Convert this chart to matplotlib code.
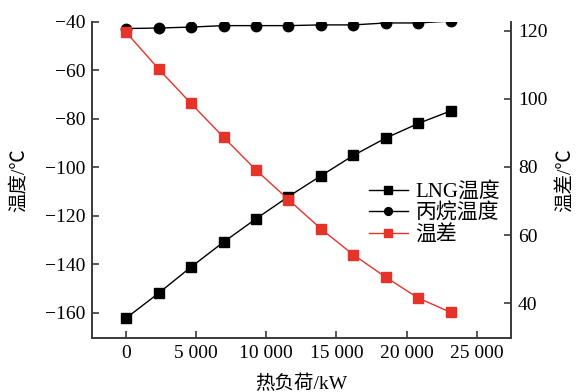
import matplotlib
matplotlib.use('Agg')
import matplotlib.pyplot as plt
from matplotlib.ticker import FuncFormatter

# ==========================================================
# Data
# ==========================================================

heat_load = [0, 2320, 4630, 6950, 9260, 11580, 13900, 16210, 18530, 20840, 23160]

lng_temp = [-162.3, -152.0, -141.2, -130.9, -121.3, -112.1,
            -103.5, -95.1, -87.9, -81.9, -76.7]

propane_temp = [-42.7, -42.5, -42.1, -41.5, -41.5, -41.5,
                -41.2, -41.2, -40.4, -40.4, -39.6]

temp_diff = [119.5, 108.7, 98.6, 88.7, 79.1, 70.4,
             61.8, 54.2, 47.6, 41.5, 37.3]

x_ticks = [0, 5000, 10000, 15000, 20000, 25000]
left_ticks = [-160, -140, -120, -100, -80, -60, -40]
right_ticks = [40, 60, 80, 100, 120]

labels = ['LNG温度', '丙烷温度', '温差']

# ==========================================================
# Style
# ==========================================================

plt.rcParams['font.family'] = ['Liberation Serif', 'Noto Sans CJK SC']
plt.rcParams['font.size'] = 14
plt.rcParams['axes.unicode_minus'] = True

red = '#e5332a'
grey = '#3a3a3a'

fig = plt.figure(figsize=(5.76, 3.92), dpi=100)
ax = fig.add_axes([0.1597, 0.1378, 0.7275, 0.8061])
ax2 = ax.twinx()

# ==========================================================
# Lines
# ==========================================================

l1, = ax.plot(heat_load, lng_temp, color='black', linewidth=1.0,
              marker='s', markersize=7, label=labels[0])
l2, = ax.plot(heat_load, propane_temp, color='black', linewidth=1.0,
              marker='o', markersize=7.5, label=labels[1])
l3, = ax2.plot(heat_load, temp_diff, color=red, linewidth=1.0,
               marker='s', markersize=7, label=labels[2])

# ==========================================================
# Axes formatting
# ==========================================================

ax.set_xlim(-2430, 27450)
ax.set_ylim(-170.5, -40)
ax2.set_ylim(29.8, 122.5)

ax.set_xticks(x_ticks)
ax.xaxis.set_major_formatter(
    FuncFormatter(lambda v, p: f'{int(v):,}'.replace(',', ' '))
)
ax.set_yticks(left_ticks)
ax2.set_yticks(right_ticks)

for a in (ax, ax2):
    a.spines['top'].set_visible(False)
    for s in a.spines.values():
        s.set_color(grey)
        s.set_linewidth(1.2)
    a.tick_params(direction='in', length=5, width=1.2, color=grey,
                  labelsize=14, pad=5)

ax.set_xlabel('热负荷/kW', fontsize=14, labelpad=9)
ax.set_ylabel('温度/℃', fontsize=14, labelpad=12)
ax2.set_ylabel('温差/℃', fontsize=14, labelpad=6)

ax2.legend(handles=[l1, l2, l3], loc='upper left',
           bbox_to_anchor=(0.64, 0.52), frameon=False,
           fontsize=15, handlelength=1.9, handletextpad=0.35,
           labelspacing=0.08, borderaxespad=0, markerscale=0.75)

fig.savefig('out.png', dpi=100)
